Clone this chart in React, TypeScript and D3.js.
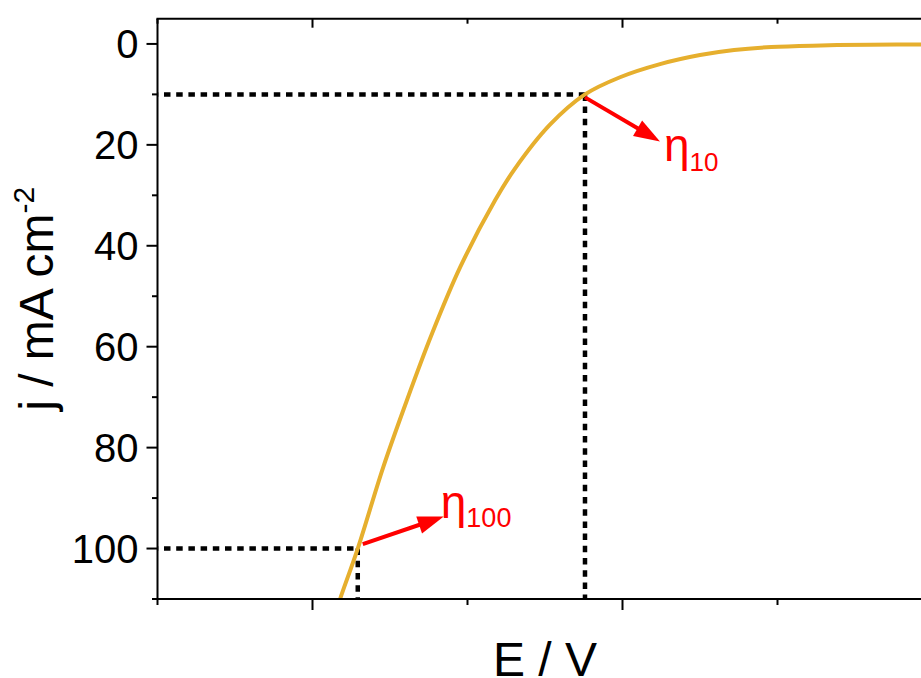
import React from "react";
import * as d3 from "d3";

// Polarization curve (LSV): potential E (V) vs current density j (mA cm^-2)
const potentialV = [1.4079, 1.4089, 1.4146, 1.4228, 1.4304, 1.4385, 1.4476, 1.4589, 1.4652, 1.4766, 1.4879, 1.4992, 1.5121, 1.5250, 1.5360, 1.5480, 1.5640, 1.5800, 1.6000];
const currentDensity = [112, 110, 100, 83.9, 70.7, 57.5, 44.3, 31.0, 24.8, 16.0, 10, 6.6, 4.0, 2.2, 1.2, 0.6, 0.3, 0.15, 0.1];

// Overpotential markers
const markerNames = ["10", "100"];
const markerE = [1.4879, 1.4146];
const markerJ = [10, 100];

const yMajorTicks = [0, 20, 40, 60, 80, 100];
const yMinorTicks = [10, 30, 50, 70, 90, 110];
const xMajorTicks = [1.4, 1.5, 1.6];
const xMinorTicks = [1.35, 1.45, 1.55];

const W = 921;
const H = 678;
const FONT = "'Liberation Sans', Arial, sans-serif";
const CURVE = "#E6AF2E";
const RED = "#FF0000";

export default function App() {
  const left = 157.5;
  const right = 932.5;
  const top = 18.7;
  const bottom = 599;

  const x = d3.scaleLinear().domain([1.35, 1.6]).range([left, right]);
  const y = d3.scaleLinear().domain([-5, 110]).range([top, bottom]);

  const line = d3
    .line<number>()
    .x((_, i) => x(potentialV[i]))
    .y((d) => y(d))
    .curve(d3.curveCatmullRom.alpha(0.5));

  const path = line(currentDensity) || "";

  // arrow geometry (offsets relative to the marked point)
  const arrows = [
    { sx: 0, sy: 3, tx: 75, ty: 47, lx: 79, ly: 67, sub: 26, subDy: 10 },
    { sx: 5, sy: -4.5, tx: 86, ty: -32, lx: 83, ly: -31, sub: 27, subDy: 9 },
  ];

  return (
    <svg
      width={W}
      height={H}
      style={{ position: "absolute", left: 0, top: 0, background: "#fff" }}
      fontFamily={FONT}
    >
      <defs>
        <clipPath id="plot-clip">
          <rect x={left} y={top} width={right - left} height={bottom - top} />
        </clipPath>
      </defs>

      {/* dashed guide lines */}
      {markerE.map((e, i) => (
        <g key={"guide" + i} stroke="#000" strokeWidth={4.5} strokeDasharray="6.5 5.7" fill="none">
          <line
            x1={x(1.35)}
            x2={x(e)}
            y1={y(markerJ[i])}
            y2={y(markerJ[i])}
            strokeDashoffset={5.7}
          />
          <line x1={x(e)} x2={x(e)} y1={y(markerJ[i])} y2={y(110)} />
        </g>
      ))}

      {/* curve */}
      <path d={path} fill="none" stroke={CURVE} strokeWidth={4} clipPath="url(#plot-clip)" />

      {/* arrows and labels */}
      {markerE.map((e, i) => {
        const px = x(e);
        const py = y(markerJ[i]);
        const a = arrows[i];
        const x1 = px + a.sx;
        const y1 = py + a.sy;
        const x2 = px + a.tx;
        const y2 = py + a.ty;
        const ang = Math.atan2(y2 - y1, x2 - x1);
        const hl = 26;
        const hw = 9;
        const bx = x2 - hl * Math.cos(ang);
        const by = y2 - hl * Math.sin(ang);
        const nx = -Math.sin(ang);
        const ny = Math.cos(ang);
        const head = `M${x2},${y2}L${bx + nx * hw},${by + ny * hw}L${bx - nx * hw},${by - ny * hw}Z`;
        return (
          <g key={"arrow" + i}>
            <line x1={x1} y1={y1} x2={bx + 2 * Math.cos(ang)} y2={by + 2 * Math.sin(ang)} stroke={RED} strokeWidth={4} />
            <path d={head} fill={RED} />
            <text x={px + a.lx} y={py + a.ly} fill={RED} fontSize={46}>
              η
              <tspan fontSize={a.sub} dy={a.subDy}>
                {markerNames[i]}
              </tspan>
            </text>
          </g>
        );
      })}

      {/* frame */}
      <g stroke="#000" strokeWidth={2} fill="none">
        <line x1={left} x2={left} y1={top} y2={bottom + 1} />
        <line x1={left - 1} x2={right} y1={bottom} y2={bottom} />
        <line x1={left - 1} x2={right} y1={top} y2={top} />
      </g>

      {/* ticks */}
      <g stroke="#000" strokeWidth={2}>
        {yMajorTicks.map((t) => (
          <line key={"ym" + t} x1={left - 11} x2={left} y1={y(t)} y2={y(t)} />
        ))}
        {yMinorTicks.map((t) => (
          <line key={"yn" + t} x1={left - 5.5} x2={left} y1={y(t)} y2={y(t)} />
        ))}
        {xMajorTicks.map((t) => (
          <g key={"xm" + t}>
            <line x1={x(t)} x2={x(t)} y1={bottom} y2={bottom + 11} />
            <line x1={x(t)} x2={x(t)} y1={top} y2={top + 9} />
          </g>
        ))}
        {xMinorTicks.map((t) => (
          <g key={"xn" + t}>
            <line x1={x(t)} x2={x(t)} y1={bottom} y2={bottom + 6} />
            <line x1={x(t)} x2={x(t)} y1={top} y2={top + 5} />
          </g>
        ))}
      </g>

      {/* y tick labels */}
      {yMajorTicks.map((t) => (
        <text
          key={"yl" + t}
          x={left - 19}
          y={y(t)}
          dy="0.36em"
          textAnchor="end"
          fontSize={40}
          fill="#000"
        >
          {t}
        </text>
      ))}

      {/* axis titles */}
      <text
        transform={`translate(53, ${(top + bottom) / 2 - 10}) rotate(-90)`}
        textAnchor="middle"
        fontSize={48}
        fill="#000"
      >
        j / mA cm
        <tspan fontSize={30} dy={-19}>
          -2
        </tspan>
      </text>
      <text x={545} y={676} textAnchor="middle" fontSize={48} fill="#000">
        E / V
      </text>
    </svg>
  );
}
